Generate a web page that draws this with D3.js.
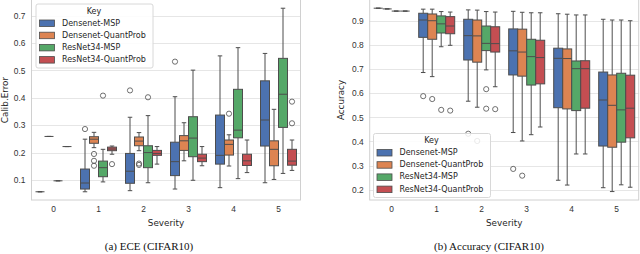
<!DOCTYPE html>
<html>
<head>
<meta charset="utf-8">
<script src="https://cdn.jsdelivr.net/npm/d3@7"></script>
<style>
  body { margin: 0; background: #fff; }
  svg { display: block; font-family: "DejaVu Sans", sans-serif; }
  .tick text { fill: #333; font-size: 8.4px; }
  .domain { display: none; }
</style>
</head>
<body>
<svg id="chart" width="640" height="254"></svg>
<script>
// categories, series and ticks
const severities = ["0", "1", "2", "3", "4", "5"];
const seriesKeys = ["Densenet-MSP", "Densenet-QuantProb", "ResNet34-MSP", "ResNet34-QuantProb"];
const seriesColors = ["#4c72b0", "#dd8452", "#55a868", "#c44e52"];
const eceTicks = [0.1, 0.2, 0.3, 0.4, 0.5, 0.6, 0.7];
const accTicks = [0.2, 0.3, 0.4, 0.5, 0.6, 0.7, 0.8, 0.9];

// box stats per severity: [whiskerLow, q1, median, q3, whiskerHigh, outliers]
const eceDensenetMSP = [
    [0.057, 0.057, 0.057, 0.057, 0.057, []],
    [0.057, 0.067, 0.089, 0.140, 0.249, [0.286]],
    [0.061, 0.088, 0.132, 0.197, 0.329, [0.427]],
    [0.067, 0.116, 0.167, 0.238, 0.404, [0.532]],
    [0.072, 0.158, 0.190, 0.337, 0.553, []],
    [0.090, 0.224, 0.319, 0.462, 0.562, []]
];
const eceDensenetQP = [
    [0.259, 0.259, 0.259, 0.259, 0.259, []],
    [0.218, 0.234, 0.249, 0.258, 0.274, [0.195, 0.170, 0.152]],
    [0.207, 0.225, 0.242, 0.257, 0.273, [0.160, 0.155]],
    [0.170, 0.208, 0.243, 0.262, 0.309, []],
    [0.151, 0.191, 0.230, 0.246, 0.265, [0.342]],
    [0.102, 0.152, 0.212, 0.243, 0.358, []]
];
const eceResNetMSP = [
    [0.097, 0.097, 0.097, 0.097, 0.097, []],
    [0.093, 0.112, 0.145, 0.169, 0.212, [0.408]],
    [0.090, 0.145, 0.200, 0.225, 0.335, [0.402]],
    [0.099, 0.185, 0.253, 0.331, 0.501, []],
    [0.105, 0.254, 0.282, 0.431, 0.583, []],
    [0.124, 0.292, 0.413, 0.544, 0.727, []]
];
const eceResNetQP = [
    [0.222, 0.222, 0.222, 0.222, 0.222, []],
    [0.194, 0.207, 0.213, 0.220, 0.224, [0.158]],
    [0.158, 0.190, 0.197, 0.208, 0.222, []],
    [0.152, 0.167, 0.180, 0.194, 0.222, []],
    [0.127, 0.153, 0.170, 0.194, 0.246, []],
    [0.135, 0.154, 0.169, 0.212, 0.246, [0.386, 0.307]]
];

const accDensenetMSP = [
    [0.953, 0.953, 0.953, 0.953, 0.953, []],
    [0.686, 0.832, 0.904, 0.932, 0.949, [0.588]],
    [0.567, 0.738, 0.839, 0.907, 0.946, [0.432]],
    [0.437, 0.676, 0.776, 0.867, 0.940, [0.286]],
    [0.239, 0.540, 0.745, 0.787, 0.930, []],
    [0.208, 0.381, 0.572, 0.688, 0.907, []]
];
const accDensenetQP = [
    [0.950, 0.950, 0.950, 0.950, 0.950, []],
    [0.669, 0.824, 0.901, 0.929, 0.949, [0.576]],
    [0.542, 0.729, 0.838, 0.904, 0.945, [0.402]],
    [0.402, 0.671, 0.771, 0.866, 0.936, [0.258]],
    [0.219, 0.535, 0.744, 0.784, 0.928, []],
    [0.192, 0.376, 0.550, 0.676, 0.904, []]
];
const accResNetMSP = [
    [0.941, 0.941, 0.941, 0.941, 0.941, []],
    [0.793, 0.850, 0.888, 0.921, 0.939, [0.531]],
    [0.697, 0.777, 0.807, 0.879, 0.939, [0.617, 0.536]],
    [0.428, 0.634, 0.752, 0.824, 0.934, []],
    [0.348, 0.528, 0.702, 0.734, 0.925, []],
    [0.220, 0.397, 0.531, 0.683, 0.904, []]
];
const accResNetQP = [
    [0.941, 0.941, 0.941, 0.941, 0.941, []],
    [0.799, 0.847, 0.879, 0.918, 0.937, [0.528]],
    [0.627, 0.771, 0.806, 0.876, 0.937, [0.534]],
    [0.460, 0.639, 0.748, 0.820, 0.934, []],
    [0.348, 0.538, 0.702, 0.735, 0.925, []],
    [0.210, 0.415, 0.538, 0.675, 0.901, []]
];

const svg = d3.select("#chart");
const lineColor = "#4d4d4d";

function drawPanel(opts) {
    const x = d3.scaleBand().domain(severities).range([opts.left, opts.right]);
    const y = d3.scaleLinear().domain(opts.yDomain).range([opts.bottom, opts.top]);
    const hue = d3.scaleBand().domain(seriesKeys)
        .range([x.bandwidth() * 0.1, x.bandwidth() * 0.9]);
    const bw = hue.bandwidth();

    const g = svg.append("g");

    // grid
    g.append("g").selectAll("line").data(opts.ticks).join("line")
        .attr("x1", opts.left).attr("x2", opts.right)
        .attr("y1", d => Math.round(y(d)) + 0.5).attr("y2", d => Math.round(y(d)) + 0.5)
        .attr("stroke", "#e6e6e6").attr("stroke-width", 1);

    // frame
    g.append("rect")
        .attr("x", opts.left + 0.5).attr("y", opts.top - 3)
        .attr("width", opts.right - opts.left - 1).attr("height", opts.bottom - opts.top + 3)
        .attr("fill", "none").attr("stroke", "#d0d0d0").attr("stroke-width", 1);

    // axes
    g.append("g").attr("transform", `translate(${opts.left},0)`)
        .call(d3.axisLeft(y).tickValues(opts.ticks).tickFormat(d3.format(".1f")).tickSize(0).tickPadding(5.5));
    g.append("g").attr("transform", `translate(0,${opts.bottom})`)
        .call(d3.axisBottom(x).tickSize(0).tickPadding(6));

    g.append("text")
        .attr("transform", `translate(${opts.yLabelX},${(opts.top + opts.bottom) / 2}) rotate(-90)`)
        .attr("text-anchor", "middle").attr("dominant-baseline", "middle")
        .attr("font-size", 8.8).attr("fill", "#262626").text(opts.yLabel);
    g.append("text")
        .attr("x", (opts.left + opts.right) / 2).attr("y", 226)
        .attr("text-anchor", "middle")
        .attr("font-size", 8.8).attr("fill", "#262626").text("Severity");
    g.append("text")
        .attr("x", opts.captionX).attr("y", 250)
        .attr("text-anchor", "middle")
        .attr("font-family", "'Liberation Serif', serif")
        .attr("font-size", 11).attr("fill", "#111").text(opts.caption);

    // boxes
    opts.series.forEach((data, si) => {
        const key = seriesKeys[si];
        const sg = g.append("g");
        data.forEach((s, ci) => {
            const x0 = x(severities[ci]) + hue(key);
            const cx = x0 + bw / 2;
            const [lo, q1, med, q3, hi, outs] = s;
            const bx = sg.append("g");
            bx.append("line")
                .attr("x1", cx).attr("x2", cx).attr("y1", y(q3)).attr("y2", y(hi))
                .attr("stroke", lineColor).attr("stroke-width", 1);
            bx.append("line")
                .attr("x1", cx).attr("x2", cx).attr("y1", y(q1)).attr("y2", y(lo))
                .attr("stroke", lineColor).attr("stroke-width", 1);
            [lo, hi].forEach(v => {
                bx.append("line")
                    .attr("x1", cx - bw / 4).attr("x2", cx + bw / 4)
                    .attr("y1", y(v)).attr("y2", y(v))
                    .attr("stroke", lineColor).attr("stroke-width", 1);
            });
            bx.append("rect")
                .attr("x", x0).attr("width", bw)
                .attr("y", y(q3)).attr("height", Math.max(0, y(q1) - y(q3)))
                .attr("fill", seriesColors[si])
                .attr("stroke", lineColor).attr("stroke-width", 1);
            bx.append("line")
                .attr("x1", x0).attr("x2", x0 + bw)
                .attr("y1", y(med)).attr("y2", y(med))
                .attr("stroke", lineColor).attr("stroke-width", 1);
            bx.selectAll("circle").data(outs).join("circle")
                .attr("cx", cx).attr("cy", d => y(d)).attr("r", 2.6)
                .attr("fill", "none").attr("stroke", lineColor).attr("stroke-width", 0.8);
        });
    });

    // legend
    const lg = g.append("g").attr("transform", `translate(${opts.legend[0]},${opts.legend[1]})`);
    lg.append("rect").attr("x", 0.5).attr("y", 0.5).attr("width", 117).attr("height", 64)
        .attr("rx", 2).attr("fill", "rgba(255,255,255,0.85)")
        .attr("stroke", "#d8d8d8").attr("stroke-width", 1);
    lg.append("text").attr("x", 58.5).attr("y", 10).attr("text-anchor", "middle")
        .attr("font-size", 8).attr("fill", "#262626").text("Key");
    seriesKeys.forEach((k, i) => {
        const yy = 19.5 + i * 12.2;
        lg.append("rect").attr("x", 4).attr("y", yy - 3).attr("width", 15).attr("height", 6.5)
            .attr("fill", seriesColors[i]).attr("stroke", lineColor).attr("stroke-width", 0.8);
        lg.append("text").attr("x", 26.5).attr("y", yy).attr("dominant-baseline", "middle")
            .attr("font-size", 8).attr("fill", "#262626").text(k);
    });
}

drawPanel({
    left: 31, right: 301, top: 0, bottom: 200,
    yDomain: [0.027, 0.757], ticks: eceTicks,
    yLabel: "Calib.Error", yLabelX: 5,
    caption: "(a) ECE (CIFAR10)", captionX: 149,
    legend: [35.5, 3.5],
    series: [eceDensenetMSP, eceDensenetQP, eceResNetMSP, eceResNetQP]
});

drawPanel({
    left: 369.2, right: 639.2, top: 0, bottom: 200,
    yDomain: [0.157, 0.987], ticks: accTicks,
    yLabel: "Accuracy", yLabelX: 341,
    caption: "(b) Accuracy (CIFAR10)", captionX: 489,
    legend: [373, 133],
    series: [accDensenetMSP, accDensenetQP, accResNetMSP, accResNetQP]
});
</script>
</body>
</html>
